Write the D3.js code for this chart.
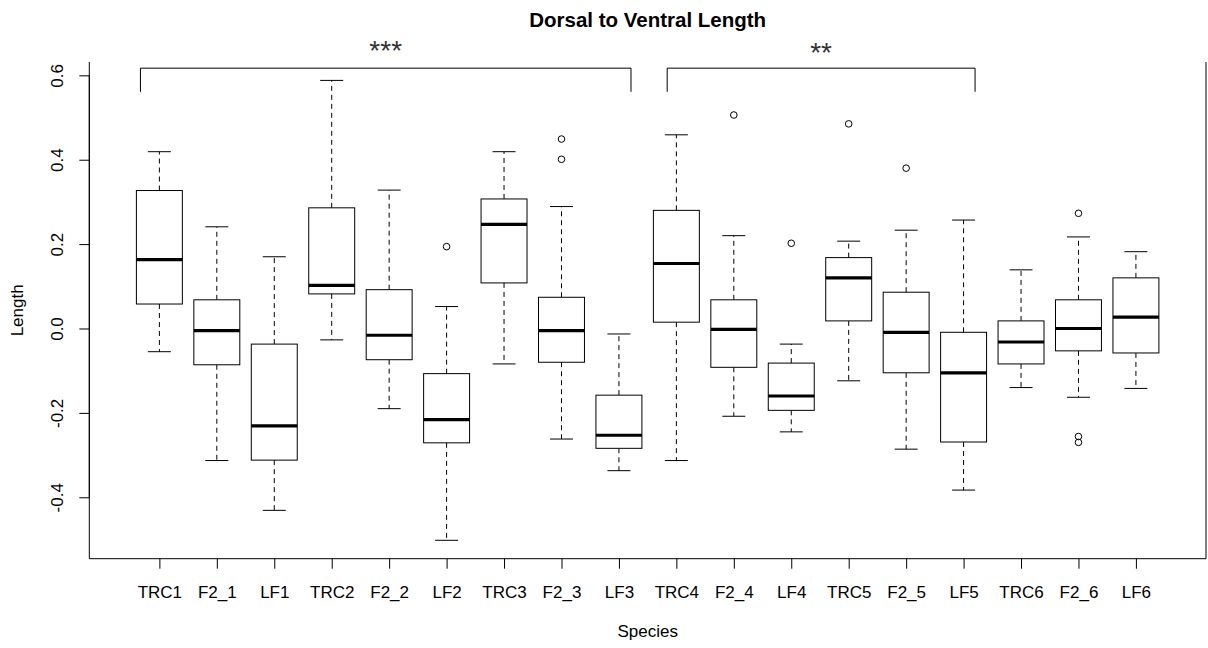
<!DOCTYPE html>
<html>
<head>
<meta charset="utf-8">
<script src="https://cdn.jsdelivr.net/npm/d3@7"></script>
<style>
  html, body { margin: 0; padding: 0; background: #fff; }
  svg { display: block; }
  text { font-family: "Liberation Sans", Arial, sans-serif; fill: #000; }
</style>
</head>
<body>
<div id="chart"></div>
<script>
// Groups along the x axis
const categories = ["TRC1", "F2_1", "LF1", "TRC2", "F2_2", "LF2", "TRC3", "F2_3", "LF3",
                    "TRC4", "F2_4", "LF4", "TRC5", "F2_5", "LF5", "TRC6", "F2_6", "LF6"];

// Five-number summaries per group
const upperWhisker = [0.419, 0.241, 0.170, 0.588, 0.328, 0.052, 0.419, 0.289, -0.013,
                      0.459, 0.220, -0.037, 0.207, 0.233, 0.257, 0.139, 0.217, 0.182];
const upperQuartile = [0.327, 0.068, -0.037, 0.286, 0.092, -0.107, 0.307, 0.074, -0.158,
                       0.280, 0.068, -0.082, 0.168, 0.086, -0.009, 0.018, 0.068, 0.120];
const medians = [0.163, -0.005, -0.231, 0.102, -0.016, -0.216, 0.247, -0.005, -0.253,
                 0.154, -0.002, -0.160, 0.120, -0.009, -0.105, -0.032, 0.000, 0.027];
const lowerQuartile = [0.058, -0.086, -0.312, 0.082, -0.074, -0.271, 0.108, -0.080, -0.284,
                       0.015, -0.092, -0.194, 0.018, -0.105, -0.269, -0.084, -0.053, -0.058];
const lowerWhisker = [-0.055, -0.313, -0.431, -0.027, -0.190, -0.502, -0.084, -0.262, -0.337,
                      -0.313, -0.208, -0.245, -0.124, -0.286, -0.383, -0.140, -0.163, -0.142];
const outliers = [[], [], [], [], [], [0.194], [], [0.449, 0.401], [],
                  [], [0.506], [0.202], [0.485], [0.380], [], [], [0.273, -0.256, -0.270], []];

// Axis ticks
const yTicks = [-0.4, -0.2, 0.0, 0.2, 0.4, 0.6];

// Significance brackets (span in group units)
const bracketFrom = [0.67, 9.84];
const bracketTo = [9.21, 15.2];
const bracketLabels = ["***", "**"];
const bracketTop = 0.617, bracketDrop = 0.561;

const W = 1208, H = 648;
const plot = { left: 89.3, right: 1206, top: 62, bottom: 558.7 };

const svg = d3.select("#chart").append("svg").attr("width", W).attr("height", H);

// Scales with 4% padding on both data ranges
const n = categories.length;
const xPad = n * 0.04;
const x = d3.scaleLinear().domain([0.5 - xPad, n + 0.5 + xPad]).range([plot.left, plot.right]);
const allVals = upperWhisker.concat(lowerWhisker, outliers.flat());
const [lo, hi] = d3.extent(allVals);
const yPad = (hi - lo) * 0.04;
const y = d3.scaleLinear().domain([lo - yPad, hi + yPad]).range([plot.bottom, plot.top]);

const boxHalf = (x(1.4) - x(1)) ;      // 0.8 box width
const capHalf = boxHalf / 2;

const rows = categories.map((c, i) => ({
  name: c, pos: i + 1,
  uw: upperWhisker[i], q3: upperQuartile[i], med: medians[i],
  q1: lowerQuartile[i], lw: lowerWhisker[i], out: outliers[i]
}));

const g = svg.append("g");

// Whiskers
const wh = g.selectAll("g.box").data(rows).join("g").attr("class", "box");
wh.append("line")
  .attr("x1", d => x(d.pos)).attr("x2", d => x(d.pos))
  .attr("y1", d => y(d.q3)).attr("y2", d => y(d.uw))
  .attr("stroke", "#000").attr("stroke-dasharray", "5,4");
wh.append("line")
  .attr("x1", d => x(d.pos)).attr("x2", d => x(d.pos))
  .attr("y1", d => y(d.q1)).attr("y2", d => y(d.lw))
  .attr("stroke", "#000").attr("stroke-dasharray", "5,4");
// Staples
wh.append("line")
  .attr("x1", d => x(d.pos) - capHalf).attr("x2", d => x(d.pos) + capHalf)
  .attr("y1", d => y(d.uw)).attr("y2", d => y(d.uw)).attr("stroke", "#000");
wh.append("line")
  .attr("x1", d => x(d.pos) - capHalf).attr("x2", d => x(d.pos) + capHalf)
  .attr("y1", d => y(d.lw)).attr("y2", d => y(d.lw)).attr("stroke", "#000");
// Boxes
wh.append("rect")
  .attr("x", d => x(d.pos) - boxHalf).attr("width", 2 * boxHalf)
  .attr("y", d => y(d.q3)).attr("height", d => y(d.q1) - y(d.q3))
  .attr("fill", "#fff").attr("stroke", "#000");
// Medians
wh.append("line")
  .attr("x1", d => x(d.pos) - boxHalf).attr("x2", d => x(d.pos) + boxHalf)
  .attr("y1", d => y(d.med)).attr("y2", d => y(d.med))
  .attr("stroke", "#000").attr("stroke-width", 3.2);
// Outliers
wh.selectAll("circle").data(d => d.out.map(v => ({ pos: d.pos, v })))
  .join("circle")
  .attr("cx", d => x(d.pos)).attr("cy", d => y(d.v)).attr("r", 3.3)
  .attr("fill", "none").attr("stroke", "#000");

// Frame: left, bottom, right
svg.append("path")
  .attr("d", `M${plot.left},${plot.top}V${plot.bottom}H${plot.right}V${plot.top}`)
  .attr("fill", "none").attr("stroke", "#000");

// Y axis
const yAxis = svg.append("g").attr("transform", `translate(${plot.left},0)`)
  .call(d3.axisLeft(y).tickValues(yTicks).tickSize(10).tickFormat(d => d.toFixed(1)));
yAxis.select(".domain").attr("d", `M0,${y(yTicks[0])}V${y(yTicks[yTicks.length - 1])}`);
yAxis.selectAll("text")
  .attr("x", null).attr("dy", null)
  .attr("transform", "translate(-26,0) rotate(-90)")
  .attr("text-anchor", "middle")
  .style("font-size", "17px").style("font-family", "'Liberation Sans', Arial, sans-serif");

// X axis
const xAxis = svg.append("g").attr("transform", `translate(0,${plot.bottom})`)
  .call(d3.axisBottom(x).tickValues(d3.range(1, n + 1)).tickSize(10)
        .tickFormat(i => categories[i - 1]));
xAxis.select(".domain").remove();
xAxis.selectAll("text")
  .attr("y", 39).attr("dy", null)
  .style("font-size", "17px").style("font-family", "'Liberation Sans', Arial, sans-serif");

// Brackets
bracketLabels.forEach((lab, i) => {
  svg.append("path")
    .attr("d", `M${x(bracketFrom[i])},${y(bracketDrop)}V${y(bracketTop)}H${x(bracketTo[i])}V${y(bracketDrop)}`)
    .attr("fill", "none").attr("stroke", "#000");
  svg.append("text")
    .attr("x", x((bracketFrom[i] + bracketTo[i]) / 2))
    .attr("y", i === 0 ? 60 : 62)
    .attr("text-anchor", "middle")
    .style("font-size", "28px").style("fill", "#333")
    .text(lab);
});

// Titles
const cx = (plot.left + plot.right) / 2;
svg.append("text").attr("x", cx).attr("y", 27).attr("text-anchor", "middle")
  .style("font-size", "20.5px").style("font-weight", "bold").text("Dorsal to Ventral Length");
svg.append("text").attr("x", cx).attr("y", 637).attr("text-anchor", "middle")
  .style("font-size", "17px").text("Species");
svg.append("text").attr("transform", `translate(22.7,${(plot.top + plot.bottom) / 2}) rotate(-90)`)
  .attr("text-anchor", "middle").style("font-size", "17px").text("Length");
</script>
</body>
</html>
